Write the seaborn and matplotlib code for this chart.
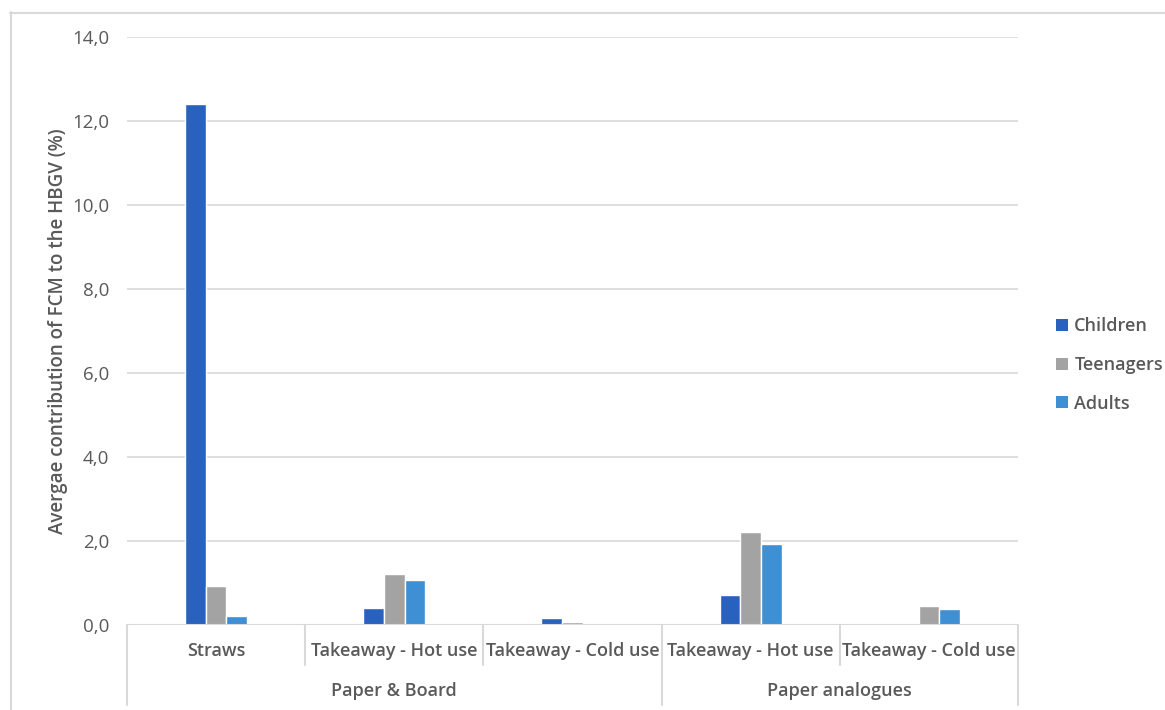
import matplotlib
matplotlib.use("Agg")
import matplotlib.pyplot as plt
import matplotlib.transforms as mtransforms
from matplotlib.lines import Line2D
from matplotlib.patches import Patch
import pandas as pd
import seaborn as sns

# Product types (inner category level) and material groups (outer level)
categories = ["Straws", "Takeaway - Hot use", "Takeaway - Cold use",
              "Takeaway - Hot use", "Takeaway - Cold use"]
groups = ["Paper & Board", "Paper & Board", "Paper & Board",
          "Paper analogues", "Paper analogues"]
group_names = ["Paper & Board", "Paper analogues"]

children = [12.40, 0.40, 0.17, 0.71, 0.04]
teenagers = [0.93, 1.21, 0.07, 2.21, 0.45]
adults = [0.21, 1.07, 0.04, 1.93, 0.38]

series_names = ["Children", "Teenagers", "Adults"]
palette = ["#2862BE", "#A3A3A3", "#3E8FD3"]

y_ticks = [0, 2, 4, 6, 8, 10, 12, 14]

rows = []
for i, (cat, grp) in enumerate(zip(categories, groups)):
    for name, vals in zip(series_names, [children, teenagers, adults]):
        rows.append({"slot": str(i), "category": cat, "group": grp,
                     "population": name, "value": vals[i]})
df = pd.DataFrame(rows)

sns.set_style("white")
plt.rcParams["font.family"] = ["Open Sans", "DejaVu Sans"]

text_col = "#595959"
grid_col = "#D9D9D9"

W, H = 1165, 710
fig = plt.figure(figsize=(W / 100, H / 100), dpi=100)
ax = fig.add_axes([127 / W, 1 - 625 / H, (1018 - 127) / W, (625 - 37) / H])

sns.barplot(data=df, x="slot", y="value", hue="population",
            order=[str(i) for i in range(len(categories))],
            hue_order=series_names, palette=palette, saturation=1,
            width=0.35, gap=0, errorbar=None, legend=False, ax=ax, zorder=3)

ax.set_xlim(-0.5, len(categories) - 0.5)
ax.set_ylim(0, 14)
ax.set_yticks(y_ticks)
ax.set_yticklabels([f"{v:.1f}".replace(".", ",") for v in y_ticks],
                   color=text_col, fontsize=13.5)
ax.tick_params(axis="y", length=0, pad=13)
ax.set_xticks([])
ax.set_xlabel("")
ax.set_ylabel("Avergae contribution of FCM to the HBGV (%)",
              color=text_col, fontsize=13.5, fontweight="semibold", labelpad=3)
ax.yaxis.grid(True, color=grid_col, linewidth=1.2, zorder=0)
for s in ax.spines.values():
    s.set_visible(False)
ax.axhline(0, color=grid_col, linewidth=1.5, zorder=4)

# Two-level category axis drawn below the plot area
trans = mtransforms.blended_transform_factory(ax.transData, fig.transFigure)
y_axis = 1 - 625 / H
y_mid = 1 - 665 / H
y_bot = 1 - 705 / H
n = len(categories)
for b in range(n + 1):
    x = b - 0.5
    is_group_edge = b == 0 or b == n or groups[b - 1] != groups[b]
    ax.add_line(Line2D([x, x], [y_axis, y_bot if is_group_edge else y_mid],
                       transform=trans, color=grid_col, linewidth=1.5,
                       clip_on=False))
for i, cat in enumerate(categories):
    ax.text(i, 1 - 651 / H, cat, transform=trans, ha="center", va="center",
            color=text_col, fontsize=13, fontweight="semibold")
for g in group_names:
    idx = [i for i, gg in enumerate(groups) if gg == g]
    ax.text(sum(idx) / len(idx), 1 - 691 / H, g, transform=trans,
            ha="center", va="center", color=text_col, fontsize=13,
            fontweight="semibold")

# Chart frame
fig.add_artist(Line2D([10.5 / W, 10.5 / W], [0, 1 - 12 / H],
                      transform=fig.transFigure, color=grid_col, linewidth=1.5))
fig.add_artist(Line2D([10 / W, 1], [1 - 12.5 / H, 1 - 12.5 / H],
                      transform=fig.transFigure, color=grid_col, linewidth=1.5))

handles = [Patch(facecolor=c, edgecolor="none") for c in palette]
fig.legend(handles, series_names, loc="center left",
           bbox_to_anchor=(1040 / W, 1 - 365 / H), frameon=False,
           labelcolor=text_col, handlelength=0.65,
           handleheight=0.65, handletextpad=0.35, labelspacing=1.15,
           prop={"weight": "semibold", "size": 13})

fig.savefig("out.png", dpi=100)
